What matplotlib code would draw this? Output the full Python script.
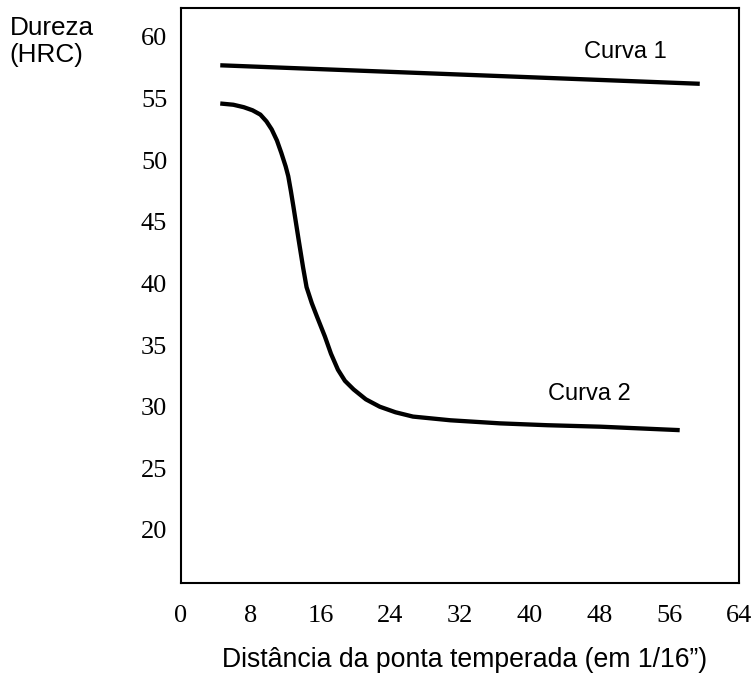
import matplotlib
matplotlib.use("Agg")
import matplotlib.pyplot as plt

# Jominy hardenability curves (hardness vs distance from quenched end)
curve1_x = [4.5, 59.5]
curve1_y = [57.7, 56.2]

curve2_x = [4.5, 6.0, 7.2, 8.2, 9.1, 9.8, 10.4, 11.0, 11.5, 12.0, 12.3, 12.6,
            12.9, 13.5, 14.0, 14.4, 15.0, 15.6, 16.5, 17.2, 18.0, 18.8, 19.8,
            21.2, 22.8, 24.6, 26.6, 30.9, 36.6, 42.0, 48.1, 57.2]
curve2_y = [54.6, 54.5, 54.3, 54.05, 53.7, 53.15, 52.5, 51.6, 50.6, 49.5, 48.7,
            47.5, 46.2, 43.5, 41.3, 39.7, 38.4, 37.3, 35.7, 34.3, 33.0, 32.1,
            31.4, 30.6, 30.0, 29.55, 29.2, 28.9, 28.65, 28.5, 28.38, 28.1]

xticks = [0, 8, 16, 24, 32, 40, 48, 56, 64]
yticks = [20, 25, 30, 35, 40, 45, 50, 55, 60]

serif = ["Liberation Serif", "DejaVu Serif"]
sans = ["Liberation Sans", "DejaVu Sans"]

fig = plt.figure(figsize=(7.53, 6.76), dpi=100)
ax = fig.add_axes([0.2404, 0.1376, 0.7410, 0.8506])

ax.plot(curve1_x, curve1_y, color="black", lw=3.1, solid_capstyle="butt")
ax.plot(curve2_x, curve2_y, color="black", lw=3.1, solid_capstyle="butt",
        solid_joinstyle="round")

ax.set_xlim(0, 64)
ax.set_ylim(15.7, 62.35)
ax.set_xticks(xticks)
ax.set_yticks(yticks)
ax.tick_params(length=0)
ax.tick_params(axis="x", pad=16)
ax.tick_params(axis="y", pad=10)
for lab in ax.get_xticklabels() + ax.get_yticklabels():
    lab.set_family(serif)
    lab.set_fontsize(19)
for sp in ax.spines.values():
    sp.set_linewidth(1.5)

ax.text(51.0, 58.8, "Curva 1", fontsize=17, family=sans, ha="center", va="center")
ax.text(46.8, 31.0, "Curva 2", fontsize=17, family=sans, ha="center", va="center")

fig.text(0.013, 0.976, "Dureza\n(HRC)", fontsize=18.8, family=sans,
         ha="left", va="top", linespacing=1.15)
fig.text(465 / 753, 1 - 660 / 676, "Distância da ponta temperada (em 1/16”)",
         fontsize=19.2, family=sans, ha="center", va="center")

fig.savefig("out.png", dpi=100)
